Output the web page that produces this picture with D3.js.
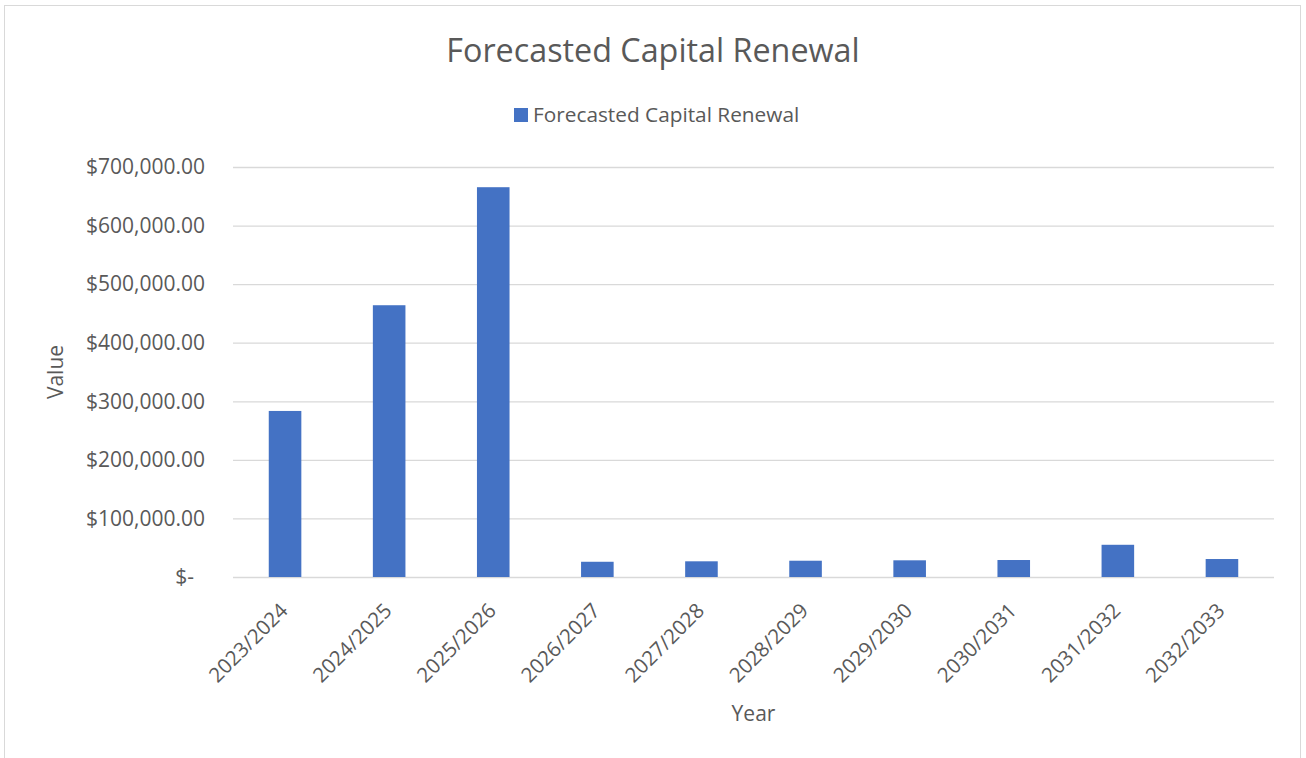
<!DOCTYPE html>
<html>
<head>
<meta charset="utf-8">
<script src="https://cdn.jsdelivr.net/npm/d3@7"></script>
<style>
  html, body { margin: 0; padding: 0; background: #fff; }
  svg { display: block; font-family: "Open Sans", "Noto Sans", sans-serif; }
</style>
</head>
<body>
<svg id="chart" width="1306" height="758"></svg>
<script>
// Forecasted capital renewal by financial year
const chartTitle = "Forecasted Capital Renewal";
const seriesName = "Forecasted Capital Renewal";
const years = ["2023/2024", "2024/2025", "2025/2026", "2026/2027", "2027/2028",
               "2028/2029", "2029/2030", "2030/2031", "2031/2032", "2032/2033"];
const renewal = [283500, 464000, 665500, 26000, 26800, 27800, 28500, 29000, 55000, 30700];
const yTicks = [0, 100000, 200000, 300000, 400000, 500000, 600000, 700000];

const svg = d3.select("#chart");
const W = 1306, H = 758;
const margin = { left: 233, right: 32, top: 167, bottom: 181 };
const plotW = W - margin.left - margin.right;
const plotH = H - margin.top - margin.bottom;
const textColor = "#595959";
const gridColor = "#d9d9d9";
const barColor = "#4472c4";
const fontStack = '"Open Sans", "Noto Sans", sans-serif';

// chart frame
svg.append("rect")
  .attr("x", 4.5).attr("y", 5.5)
  .attr("width", 1296).attr("height", 760)
  .attr("fill", "#fff").attr("stroke", gridColor).attr("stroke-width", 1);

const g = svg.append("g").attr("transform", `translate(${margin.left},${margin.top})`);

const x = d3.scaleBand().domain(years).range([0, plotW])
  .paddingInner(0.687).paddingOuter(0.3435);
const y = d3.scaleLinear().domain([0, 700000]).range([plotH, 0]);

const money = d3.format("$,.2f");

// horizontal gridlines + value labels
const yAxis = d3.axisLeft(y).tickValues(yTicks).tickSize(-plotW).tickPadding(28)
  .tickFormat(d => d === 0 ? "$-" : money(d));
const ya = g.append("g").call(yAxis).attr("font-family", fontStack).attr("font-size", null);
ya.select(".domain").remove();
ya.selectAll(".tick line").attr("stroke", gridColor).attr("stroke-width", 1.3);
ya.selectAll(".tick text")
  .attr("fill", textColor).style("font-size", "21px")
  .attr("dx", d => d === 0 ? -11 : 0);

// bars
g.selectAll("rect.bar").data(years).join("rect")
  .attr("class", "bar")
  .attr("x", d => x(d))
  .attr("width", x.bandwidth())
  .attr("y", (d, i) => y(renewal[i]))
  .attr("height", (d, i) => plotH - y(renewal[i]))
  .attr("fill", barColor);

// category labels
const xAxis = d3.axisBottom(x).tickSize(0).tickPadding(0);
const xa = g.append("g").attr("transform", `translate(0,${plotH})`).call(xAxis)
  .attr("font-family", fontStack).attr("font-size", null);
xa.select(".domain").remove();
xa.selectAll(".tick text")
  .attr("fill", textColor).style("font-size", "20.5px")
  .attr("text-anchor", "end")
  .attr("dy", null)
  .attr("transform", `translate(4,35) rotate(-45)`)
  .attr("y", 0).attr("x", 0);

// title
svg.append("text")
  .attr("x", 653).attr("y", 62)
  .attr("text-anchor", "middle")
  .attr("fill", textColor).style("font-size", "32.3px")
  .text(chartTitle);

// legend
const legend = svg.append("g");
legend.append("rect").attr("x", 514).attr("y", 108).attr("width", 14).attr("height", 14).attr("fill", barColor);
legend.append("text").attr("x", 533).attr("y", 122)
  .attr("fill", textColor).style("font-size", "20.8px").text(seriesName);

// axis titles
svg.append("text")
  .attr("transform", `translate(63,${margin.top + plotH / 2}) rotate(-90)`)
  .attr("text-anchor", "middle")
  .attr("fill", textColor).style("font-size", "21px")
  .text("Value");
svg.append("text")
  .attr("x", margin.left + plotW / 2).attr("y", 721)
  .attr("text-anchor", "middle")
  .attr("fill", textColor).style("font-size", "21px")
  .text("Year");
</script>
</body>
</html>
